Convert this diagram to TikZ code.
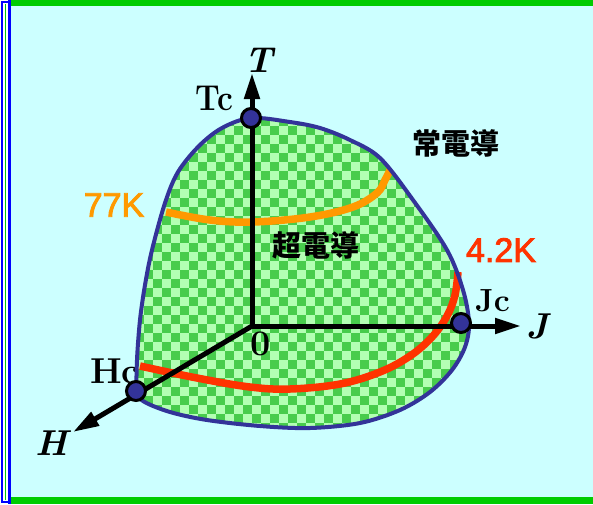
\documentclass[tikz,border=0pt]{standalone}
\usepackage{fontspec}
\newfontfamily\cjk{Noto Sans CJK JP}
\newfontfamily\arial{Liberation Sans}[FakeBold=2.5]
\usetikzlibrary{arrows.meta}
\definecolor{bgcyan}{HTML}{CCFFFF}
\definecolor{bargreen}{HTML}{00CC00}
\definecolor{chkl}{HTML}{B3FFB3}
\definecolor{chkd}{HTML}{48CC4C}
\definecolor{blobblue}{HTML}{333399}
\definecolor{orangec}{HTML}{FF9900}
\definecolor{redc}{HTML}{FF3300}
\definecolor{frameblue}{HTML}{0000FF}
\tikzset{
  axisline/.style={line width=5pt, draw=black, -{Triangle[length=26pt,width=15pt]}},
  dotnode/.style={circle, fill=blobblue, draw=black, line width=3pt, minimum size=19pt, inner sep=0pt},
  bluebound/.style={line width=4pt, draw=blobblue},
  tempcurve/.style={line width=7.5pt},
  serifbold/.style={inner sep=0pt, font=\fontsize{36}{36}\selectfont\bfseries},
  serifbi/.style={inner sep=0pt, font=\fontsize{36}{36}\selectfont\bfseries\itshape},
  kelvin/.style={inner sep=0pt, font=\fontsize{34}{34}\selectfont\arial},
  kanji/.style={inner sep=0pt, font=\fontsize{29}{29}\selectfont\cjk\bfseries},
}
\def\blobpath{plot[smooth cycle, tension=0.55] coordinates {(251,118) (290,122) (320,128) (350,140) (380,158) (413,200) (447,250) (463,290) (469,323) (465,347) (452,370) (430,392) (400,410) (360,423) (310,428) (260,426) (207,420) (170,412) (143,401) (137,390) (137,360) (140,320) (145,285) (152,250) (165,203) (178,172) (199,146) (222,128)}}
\begin{document}
\begin{tikzpicture}[x=1pt,y=-1pt]
\useasboundingbox (0,0) rectangle (593,504);
\fill[bgcyan] (0,0) rectangle (593,504);
\fill[bargreen] (11,0) rectangle (593,6);
\fill[bargreen] (11,497) rectangle (593,504);
% left frame
\fill[white] (0,0) rectangle (11,504);
\fill[frameblue] (1,1) rectangle (3,503);
\fill[frameblue] (1,1) rectangle (8,3);
\fill[frameblue] (1,501) rectangle (8,503);
\fill[bargreen] (5,4) rectangle (6,500);
\fill[frameblue] (8,0) rectangle (11,504);
% Hc label (partly under the region)
\node[serifbold, anchor=base west] (hclab) at (90,383) {Hc};
% checkered region
\begin{scope}
\clip \blobpath;
\fill[chkl] (120,100) rectangle (480,440);
\foreach \i in {0,...,20} {
  \foreach \j in {0,...,19} {
    \fill[chkd] (117+18*\i,99+18*\j) rectangle ++(9,9);
    \fill[chkd] (126+18*\i,108+18*\j) rectangle ++(9,9);
  }
}
\end{scope}
% temperature curves
\draw[tempcurve, orangec] plot[smooth, tension=0.6] coordinates {(166,212) (210,220) (253,222) (310,217) (353,207) (377,193) (385,180) (390,170)};
\draw[tempcurve, redc] plot[smooth, tension=0.6] coordinates {(140,366) (197,378) (250,387) (290,389) (340,384) (380,372) (410,356) (432,337) (447,316) (455,295) (458,272)};
% boundary
\draw[bluebound] \blobpath;
% axes
\coordinate (O) at (252,326);
\coordinate (Ttip) at (252,73);
\coordinate (Jtip) at (521,326);
\coordinate (Htip) at (73,432);
\draw[axisline] (O) -- (Ttip);
\draw[axisline] (O) -- (Jtip);
\draw[axisline, line cap=round] (O) -- (Htip);
% critical points
\node[dotnode] (Tc) at (251,118) {};
\node[dotnode] (Jc) at (461,323) {};
\node[dotnode] (Hc) at (136,391) {};
% labels
\node[serifbi, anchor=base west] (tlab) at (244,72) {T};
\node[serifbi, anchor=base west] (jlab) at (526,338) {J};
\node[serifbi, anchor=base west] (hlab) at (35,455) {H};
\node[serifbold, anchor=base west, xscale=0.88] (tclab) at (195,110) {Tc};
\node[anchor=base west, inner sep=0pt, font=\fontsize{32}{32}\selectfont\bfseries] (jclab) at (475,311) {Jc};
\node[serifbold, anchor=base west] (zlab) at (250,355) {0};
\node[kelvin, text=orangec] (k77) at (114,205) {77K};
\node[kelvin, text=redc] (k42) at (501,250) {4.2K};
\node[kanji] (normal) at (456,143) {常電導};
\node[kanji] (super) at (316,245) {超電導};
\end{tikzpicture}
\end{document}
